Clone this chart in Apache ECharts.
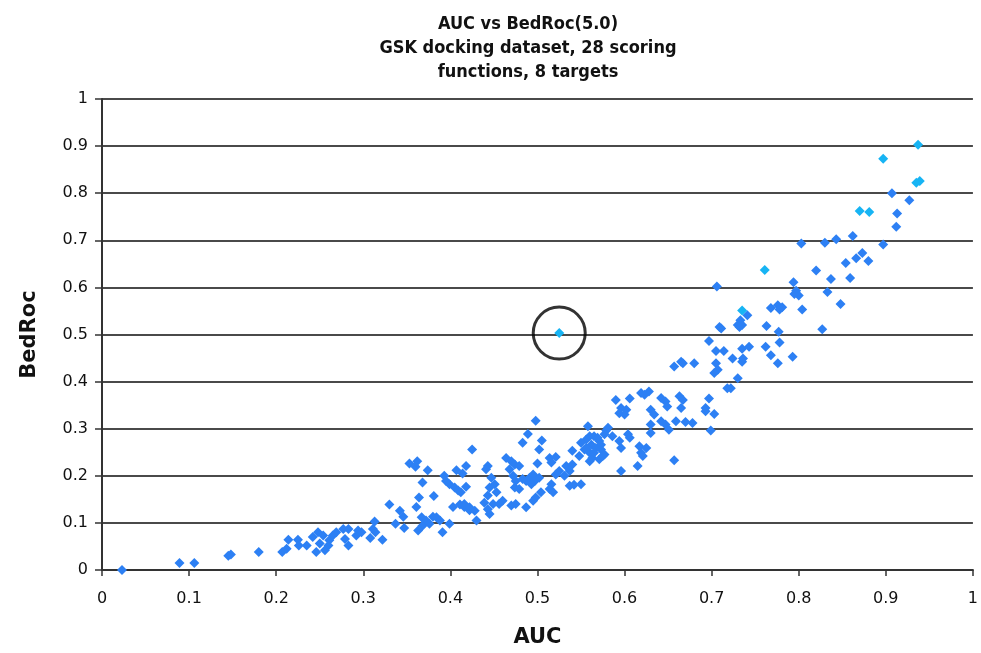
<!DOCTYPE html>
<html>
<head>
<meta charset="utf-8">
<script src="https://cdn.jsdelivr.net/npm/echarts@6/dist/echarts.min.js"></script>
<style>
  html, body { margin: 0; padding: 0; background: #fff; }
  #chart { width: 981px; height: 653px; }
</style>
</head>
<body>
<div id="chart"></div>
<script>
// AUC vs BedRoc(5.0), GSK docking dataset: one point per scoring function / target pair
const xTicks = [0, 0.1, 0.2, 0.3, 0.4, 0.5, 0.6, 0.7, 0.8, 0.9, 1];
const yTicks = [0, 0.1, 0.2, 0.3, 0.4, 0.5, 0.6, 0.7, 0.8, 0.9, 1];

// regular scoring functions
const aucMain = [
  0.023, 0.089, 0.106, 0.145, 0.148, 0.180, 0.207, 0.212, 0.214, 0.225, 0.226, 0.235,
  0.242, 0.248, 0.254, 0.250, 0.246, 0.256, 0.261, 0.265, 0.260, 0.269, 0.277, 0.283,
  0.279, 0.283, 0.292, 0.294, 0.298, 0.313, 0.311, 0.314, 0.330, 0.337, 0.342, 0.346,
  0.308, 0.322,
  0.353, 0.362, 0.360, 0.374, 0.418, 0.407, 0.393, 0.395, 0.399, 0.405, 0.409, 0.418,
  0.368, 0.364, 0.361, 0.381, 0.403, 0.411, 0.416, 0.422, 0.430, 0.367, 0.372, 0.380,
  0.384, 0.388, 0.376, 0.368, 0.399, 0.363, 0.391, 0.425, 0.414, 0.412, 0.416, 0.422,
  0.428, 0.347,
  0.498, 0.489, 0.483, 0.505, 0.502, 0.558, 0.579, 0.556, 0.565, 0.571, 0.562, 0.567,
  0.573, 0.560, 0.554, 0.563, 0.571, 0.577, 0.548, 0.540, 0.464, 0.470, 0.474, 0.479,
  0.468, 0.514, 0.521, 0.516, 0.500, 0.443, 0.441, 0.533, 0.540, 0.537, 0.531, 0.525,
  0.521, 0.491, 0.495, 0.487, 0.497, 0.483, 0.502, 0.493, 0.472, 0.475, 0.474, 0.479,
  0.447, 0.451, 0.445, 0.453, 0.443, 0.516, 0.514, 0.518, 0.537, 0.542, 0.550, 0.504,
  0.498, 0.495, 0.460, 0.456, 0.449, 0.443, 0.439, 0.470, 0.475, 0.487, 0.445,
  0.711, 0.697, 0.705, 0.714, 0.705, 0.707, 0.703, 0.657, 0.665, 0.680, 0.718, 0.619,
  0.628, 0.623, 0.590, 0.606, 0.596, 0.602, 0.594, 0.600, 0.642, 0.647, 0.649, 0.663,
  0.667, 0.665, 0.630, 0.634, 0.697, 0.693, 0.703, 0.693, 0.642, 0.647, 0.659, 0.670,
  0.678, 0.630, 0.630, 0.651, 0.699, 0.581, 0.577, 0.586, 0.569, 0.560, 0.604, 0.606,
  0.594, 0.596, 0.550, 0.556, 0.573, 0.565, 0.575, 0.560, 0.617, 0.625, 0.619, 0.621,
  0.615, 0.596, 0.657, 0.667,
  0.803, 0.830, 0.843, 0.862, 0.820, 0.837, 0.859, 0.706, 0.794, 0.797, 0.800, 0.795,
  0.833, 0.804, 0.848, 0.768, 0.776, 0.781, 0.778, 0.741, 0.733, 0.730, 0.735, 0.732,
  0.709, 0.763, 0.777, 0.827, 0.743, 0.735, 0.762, 0.778, 0.768, 0.776, 0.793, 0.724,
  0.735, 0.736, 0.730, 0.722, 0.907, 0.927, 0.913, 0.912, 0.897, 0.873, 0.866, 0.854,
  0.880
];
const bedrocMain = [
  0.000, 0.015, 0.015, 0.030, 0.033, 0.038, 0.038, 0.045, 0.064, 0.064, 0.052, 0.052,
  0.070, 0.080, 0.073, 0.056, 0.038, 0.042, 0.063, 0.073, 0.052, 0.080, 0.087, 0.052,
  0.066, 0.087, 0.073, 0.084, 0.080, 0.103, 0.087, 0.080, 0.139, 0.098, 0.126, 0.113,
  0.068, 0.064,
  0.226, 0.231, 0.219, 0.212, 0.221, 0.212, 0.200, 0.189, 0.182, 0.175, 0.169, 0.177,
  0.186, 0.154, 0.134, 0.157, 0.134, 0.139, 0.134, 0.127, 0.105, 0.112, 0.105, 0.113,
  0.112, 0.105, 0.098, 0.094, 0.098, 0.084, 0.080, 0.256, 0.205, 0.165, 0.140, 0.133,
  0.126, 0.089,
  0.317, 0.289, 0.270, 0.275, 0.256, 0.305, 0.296, 0.277, 0.284, 0.274, 0.266, 0.259,
  0.256, 0.249, 0.256, 0.238, 0.235, 0.245, 0.242, 0.253, 0.238, 0.231, 0.224, 0.221,
  0.214, 0.238, 0.240, 0.228, 0.226, 0.221, 0.214, 0.221, 0.224, 0.210, 0.200, 0.210,
  0.203, 0.196, 0.203, 0.189, 0.189, 0.193, 0.196, 0.182, 0.200, 0.189, 0.175, 0.172,
  0.196, 0.182, 0.175, 0.165, 0.158, 0.182, 0.172, 0.165, 0.179, 0.181, 0.182, 0.165,
  0.154, 0.147, 0.147, 0.140, 0.140, 0.129, 0.143, 0.137, 0.140, 0.133, 0.119,
  0.513, 0.486, 0.465, 0.465, 0.439, 0.425, 0.418, 0.432, 0.442, 0.439, 0.386, 0.376,
  0.379, 0.372, 0.361, 0.364, 0.344, 0.340, 0.333, 0.330, 0.365, 0.358, 0.347, 0.369,
  0.361, 0.344, 0.340, 0.330, 0.364, 0.344, 0.331, 0.337, 0.316, 0.309, 0.316, 0.314,
  0.312, 0.309, 0.291, 0.298, 0.296, 0.302, 0.288, 0.284, 0.281, 0.284, 0.288, 0.281,
  0.274, 0.259, 0.270, 0.259, 0.266, 0.249, 0.242, 0.231, 0.263, 0.259, 0.249, 0.242,
  0.221, 0.210, 0.233, 0.439,
  0.693, 0.695, 0.702, 0.709, 0.636, 0.618, 0.620, 0.602, 0.611, 0.593, 0.583, 0.586,
  0.590, 0.553, 0.565, 0.556, 0.562, 0.558, 0.553, 0.541, 0.530, 0.520, 0.520, 0.516,
  0.516, 0.518, 0.506, 0.511, 0.474, 0.470, 0.474, 0.483, 0.456, 0.439, 0.453, 0.449,
  0.442, 0.449, 0.407, 0.386, 0.800, 0.785, 0.757, 0.729, 0.691, 0.673, 0.662, 0.652,
  0.656
];

// highlighted (light blue) scoring functions
const aucHigh = [0.937, 0.897, 0.939, 0.935, 0.870, 0.881, 0.761, 0.735, 0.525];
const bedrocHigh = [0.903, 0.873, 0.826, 0.822, 0.762, 0.760, 0.637, 0.551, 0.503];

// the outlier that gets ringed
const outlierAuc = [0.525];
const outlierBedroc = [0.503];

const zip = (xs, ys) => xs.map((x, i) => [x, ys[i]]);

const chart = echarts.init(document.getElementById('chart'), null, { renderer: 'canvas' });
const labelFont = 'DejaVu Sans, Verdana, sans-serif';
const titleFont = '"DejaVu Sans Condensed", "DejaVu Sans", sans-serif';

chart.setOption({
  animation: false,
  backgroundColor: '#ffffff',
  title: {
    text: 'AUC vs BedRoc(5.0)\nGSK docking dataset, 28 scoring\nfunctions, 8 targets',
    left: 523,
    top: 7,
    textAlign: 'center',
    textStyle: {
      fontFamily: titleFont,
      fontWeight: 'bold',
      fontSize: 18,
      lineHeight: 24,
      color: '#111'
    }
  },
  grid: { left: 102, right: 7, top: 99, bottom: 80, containLabel: false },
  xAxis: {
    type: 'value',
    min: xTicks[0],
    max: xTicks[xTicks.length - 1],
    interval: 0.1,
    name: 'AUC',
    nameLocation: 'middle',
    nameGap: 57,
    nameTextStyle: { fontFamily: labelFont, fontWeight: 'bold', fontSize: 21, color: '#111' },
    axisLine: { show: true, onZero: false, lineStyle: { color: '#333', width: 2 } },
    axisTick: { show: true, length: 6, inside: false, lineStyle: { color: '#333', width: 1.5 } },
    axisLabel: { fontFamily: labelFont, fontSize: 16, color: '#111', margin: 21 },
    splitLine: { show: false }
  },
  yAxis: {
    type: 'value',
    min: yTicks[0],
    max: yTicks[yTicks.length - 1],
    interval: 0.1,
    name: 'BedRoc',
    nameLocation: 'middle',
    nameGap: 62,
    nameTextStyle: { fontFamily: labelFont, fontWeight: 'bold', fontSize: 21, color: '#111' },
    axisLine: { show: true, onZero: false, lineStyle: { color: '#333', width: 2 } },
    axisTick: { show: true, length: 7, inside: false, lineStyle: { color: '#333', width: 1.5 } },
    axisLabel: { fontFamily: labelFont, fontSize: 16, color: '#111', margin: 14 },
    splitLine: { show: true, lineStyle: { color: '#4a4a4a', width: 2 } }
  },
  series: [
    {
      name: 'scoring functions',
      type: 'scatter',
      symbol: 'diamond',
      symbolSize: 10,
      data: zip(aucMain, bedrocMain),
      itemStyle: { color: '#2d80f4', opacity: 1 },
      z: 3
    },
    {
      name: 'highlighted',
      type: 'scatter',
      symbol: 'diamond',
      symbolSize: 10,
      data: zip(aucHigh, bedrocHigh),
      itemStyle: { color: '#17b4f4', opacity: 1 },
      z: 4
    },
    {
      name: 'outlier ring',
      type: 'scatter',
      symbol: 'circle',
      symbolSize: 52,
      data: zip(outlierAuc, outlierBedroc),
      itemStyle: { color: 'rgba(0,0,0,0)', borderColor: '#000', borderWidth: 3 },
      silent: true,
      z: 5
    }
  ]
});
</script>
</body>
</html>
